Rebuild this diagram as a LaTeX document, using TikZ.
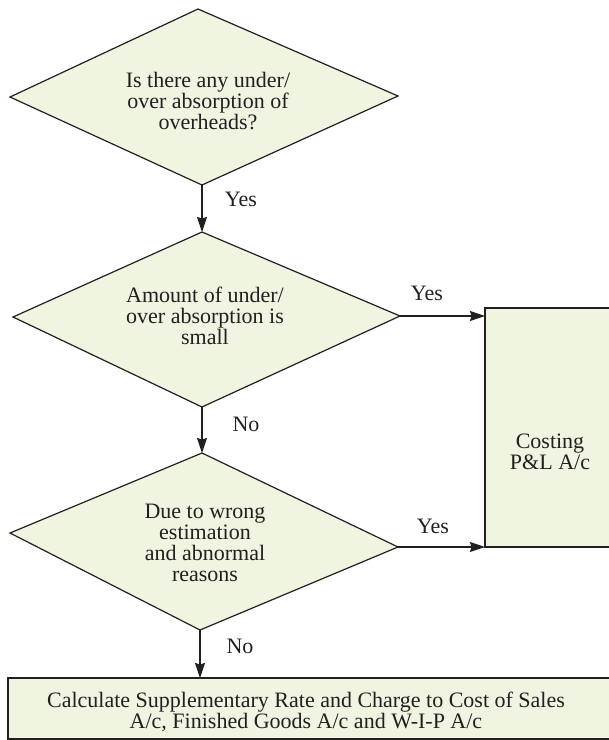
\documentclass[tikz,border=0pt]{standalone}
\usepackage{fontspec}
\setmainfont{Liberation Serif}
\usetikzlibrary{arrows.meta,calc}
\definecolor{boxfill}{RGB}{240,245,225}
\definecolor{ink}{RGB}{35,31,32}
\begin{document}
\begin{tikzpicture}[x=1pt,y=-1pt,
  shapeline/.style={draw=ink, line width=1.2pt, fill=boxfill},
  edgeline/.style={draw=ink, line width=1.2pt},
  boxnode/.style={fill=boxfill, draw=none, anchor=north west, inner sep=0pt, outer sep=0pt},
  txt/.style={align=center, font=\fontsize{22}{21}\selectfont, text=ink, inner sep=0pt},
  lbl/.style={font=\fontsize{22}{21}\selectfont, text=ink, inner sep=0pt},
  conn/.style={draw=ink, line width=1.2pt, -{Stealth[length=15pt,width=10pt,inset=1.5pt]}}]
\useasboundingbox (0,0) rectangle (609,740);
% diamond 1
\coordinate (d1t) at (198,9);
\coordinate (d1r) at (398,96);
\coordinate (d1b) at (202,185);
\coordinate (d1l) at (10,97);
\draw[shapeline] (d1t) -- (d1r) -- (d1b) -- (d1l) -- cycle;
\node[txt] (q1) at (208,101) {Is there any under/\\over absorption of\\overheads?};
% diamond 2
\coordinate (d2t) at (202,232);
\coordinate (d2r) at (400,316);
\coordinate (d2b) at (202,407);
\coordinate (d2l) at (13,317);
\draw[shapeline] (d2t) -- (d2r) -- (d2b) -- (d2l) -- cycle;
\node[txt] (q2) at (205,316) {Amount of under/\\over absorption is\\small};
% diamond 3
\coordinate (d3t) at (202,453);
\coordinate (d3r) at (398,547);
\coordinate (d3b) at (200,630);
\coordinate (d3l) at (10,533);
\draw[shapeline] (d3t) -- (d3r) -- (d3b) -- (d3l) -- cycle;
\node[txt] (q3) at (205,543) {Due to wrong\\estimation\\and abnormal\\reasons};
% boxes (cut off at the right edge of the picture)
\node[boxnode, minimum width=150pt, minimum height=239pt] (cost) at (485,308) {};
\draw[edgeline] (cost.north east) -- (cost.north west) -- (cost.south west) -- (cost.south east);
\node[txt] (costtxt) at (550,452) {Costing\\P\&L A/c};
\node[boxnode, minimum width=630pt, minimum height=61pt] (calc) at (8,678) {};
\draw[edgeline] (calc.north east) -- (calc.north west) -- (calc.south west) -- (calc.south east);
\node[txt] (calctxt) at (306,712) {Calculate Supplementary Rate and Charge to Cost of Sales\\A/c, Finished Goods A/c and W-I-P A/c};
% connectors
\draw[conn] (d1b) -- (d2t);
\draw[conn] (d2b) -- (d3t);
\draw[conn] (d2r) -- (d2r -| cost.west);
\draw[conn] (d3r) -- (d3r -| cost.west);
\draw[conn] (d3b) -- (d3b |- calc.north);
% labels
\node[lbl] (y1) at (241,199) {Yes};
\node[lbl] (n1) at (246,424) {No};
\node[lbl] (y2) at (427,293) {Yes};
\node[lbl] (y3) at (433,526) {Yes};
\node[lbl] (n2) at (240,646) {No};
\end{tikzpicture}
\end{document}
